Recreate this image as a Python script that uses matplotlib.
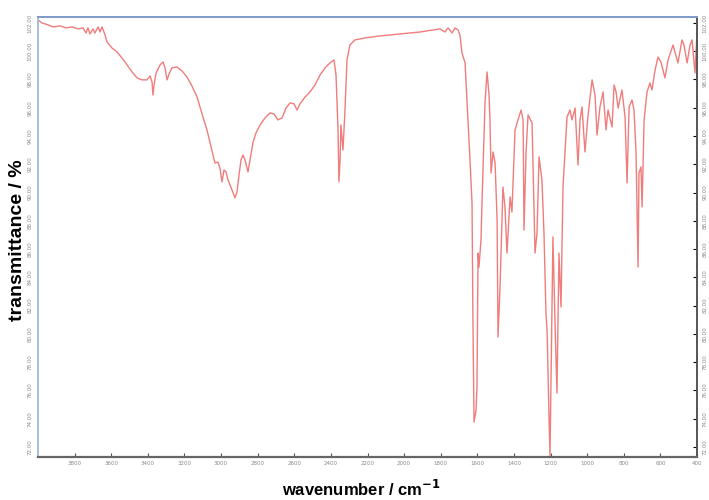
import matplotlib
matplotlib.use("Agg")
import matplotlib.pyplot as plt
import numpy as np

# IR spectrum: wavenumber (cm^-1) and transmittance (%)
wavenumber = [
    4000, 3978, 3945, 3918, 3880, 3847, 3814, 3781, 3754, 3738, 3727, 3716, 3700, 3689,
    3672, 3661, 3650, 3634, 3623, 3596, 3568, 3525, 3486, 3459, 3432, 3405, 3388, 3377,
    3372, 3366, 3355, 3333, 3317, 3306, 3295, 3284, 3268, 3241, 3213, 3186, 3159, 3131,
    3099, 3077, 3060, 3044, 3033, 3017, 3006, 2995, 2984, 2973, 2962, 2940, 2924, 2913,
    2902, 2891, 2880, 2869, 2853, 2842, 2825, 2809, 2787, 2760, 2733, 2711, 2689, 2667,
    2645, 2623, 2601, 2585, 2569, 2541, 2514, 2487, 2459, 2432, 2405, 2383, 2372, 2361,
    2356, 2350, 2345, 2334, 2323, 2312, 2296, 2268, 2214, 2132, 2022, 1913, 1804, 1777,
    1760, 1738, 1722, 1705, 1695, 1684, 1667, 1651, 1640, 1629, 1624, 1618, 1607, 1602,
    1596, 1591, 1580, 1574, 1558, 1547, 1536, 1531, 1525, 1514, 1503, 1492, 1487, 1476,
    1460, 1449, 1438, 1421, 1411, 1394, 1378, 1361, 1350, 1345, 1334, 1323, 1301, 1285,
    1274, 1263, 1247, 1236, 1225, 1219, 1208, 1203, 1187, 1176, 1165, 1154, 1143, 1132,
    1110, 1094, 1083, 1066, 1050, 1039, 1028, 1012, 995, 973, 957, 946, 930, 913,
    897, 886, 864, 853, 842, 831, 810, 793, 782, 771, 755, 744, 733, 722,
    717, 706, 700, 689, 673, 657, 646, 629, 613, 597, 575, 558, 531, 504,
    482, 471, 454, 438, 427, 411, 400,
]
transmittance = [
    102.21, 102.00, 101.86, 101.72, 101.79, 101.65, 101.72, 101.58, 101.65, 101.29, 101.65, 101.22, 101.58, 101.29,
    101.72, 101.36, 101.72, 101.15, 100.66, 100.23, 99.95, 99.24, 98.53, 98.11, 97.97, 97.97, 98.25, 97.82,
    96.90, 97.61, 98.46, 99.03, 99.24, 98.82, 97.97, 98.39, 98.82, 98.89, 98.60, 98.18, 97.54, 96.76,
    95.35, 94.43, 93.51, 92.66, 92.09, 92.16, 91.74, 90.75, 91.60, 91.46, 90.89, 90.18, 89.62, 90.04,
    91.24, 92.30, 92.66, 92.30, 91.46, 92.30, 93.58, 94.22, 94.78, 95.28, 95.63, 95.56, 95.14, 95.28,
    95.98, 96.34, 96.27, 95.84, 96.27, 96.76, 97.12, 97.61, 98.32, 98.82, 99.17, 99.38, 98.32, 94.43,
    90.75, 92.30, 94.78, 93.01, 95.84, 99.38, 100.44, 100.80, 100.94, 101.08, 101.22, 101.36, 101.58, 101.36,
    101.65, 101.29, 101.65, 101.50, 101.15, 99.88, 99.17, 95.14, 92.30, 89.26, 80.98, 73.76, 74.61, 76.24,
    85.72, 84.73, 86.64, 89.47, 96.34, 98.53, 96.90, 95.14, 91.38, 92.87, 92.09, 88.06, 79.78, 83.32,
    90.39, 88.98, 85.72, 89.69, 88.62, 94.43, 95.14, 95.84, 95.14, 87.35, 92.80, 95.49, 94.92, 85.72,
    87.14, 92.52, 90.89, 87.14, 81.48, 80.27, 73.90, 71.40, 86.86, 80.98, 75.81, 85.72, 81.90, 90.39,
    95.35, 95.84, 95.14, 95.98, 91.95, 95.14, 96.06, 92.87, 95.49, 97.97, 96.90, 94.07, 96.06, 97.12,
    94.43, 95.84, 94.64, 97.61, 97.12, 95.98, 97.26, 95.35, 90.68, 96.06, 96.55, 95.84, 92.80, 84.73,
    91.38, 91.81, 88.98, 95.14, 97.12, 97.75, 97.26, 98.67, 99.59, 99.24, 98.11, 99.38, 100.44, 99.17,
    100.80, 100.44, 99.17, 100.44, 100.80, 98.46, 101.29,
]

x_ticks = [3800, 3600, 3400, 3200, 3000, 2800, 2600, 2400, 2200, 2000,
           1800, 1600, 1400, 1200, 1000, 800, 600, 400]
y_ticks = [72, 74, 76, 78, 80, 82, 84, 86, 88, 90, 92, 94, 96, 98, 100, 102]

fig = plt.figure(figsize=(7.09, 5.0), dpi=100)
ax = fig.add_axes([38 / 709, 43 / 500, 659 / 709, 440 / 500])

ax.plot(wavenumber, transmittance, color="#f07c7c", lw=1.0, solid_joinstyle="round")

ax.set_xlim(4000, 400)
ax.set_ylim(71.29, 102.42)

ax.set_xticks(x_ticks)
ax.set_xticklabels([str(t) for t in x_ticks], fontsize=4, color="#8a8a8a")
ax.set_yticks(y_ticks)
ax.set_yticklabels([f"{t:.2f}" for t in y_ticks], fontsize=4, color="#8a8a8a",
                   rotation=90, va="center")
ax.tick_params(axis="x", direction="in", length=3, width=0.8, color="#555555", pad=3)
ax.tick_params(axis="y", direction="in", length=0, pad=4,
               right=True, labelright=True)
for t in ax.yaxis.get_major_ticks():
    t.tick2line.set_markersize(3)
    t.tick2line.set_color("#555555")
    t.label2.set_rotation(90)
    t.label2.set_fontsize(4)
    t.label2.set_color("#8a8a8a")
    t.label2.set_va("center")

ax.spines["left"].set_color("#a9bde0")
ax.spines["left"].set_linewidth(1.4)
ax.spines["top"].set_color("#7f9ac8")
ax.spines["top"].set_linewidth(1.4)
ax.spines["right"].set_color("#555555")
ax.spines["right"].set_linewidth(1.4)
ax.spines["bottom"].set_color("#666666")
ax.spines["bottom"].set_linewidth(1.6)

label_font = dict(family=["Liberation Sans Narrow", "Liberation Sans", "DejaVu Sans"],
                  fontweight="heavy", color="black")
fig.text(361 / 709, 1 - 489 / 500, "wavenumber / cm$^{\\mathbf{-1}}$",
         ha="center", va="center", fontsize=12, **label_font)
fig.text(18 / 709, 1 - 240 / 500, "transmittance / %", rotation=90,
         ha="center", va="center", fontsize=14, **label_font)

fig.savefig("out.png", dpi=100)
